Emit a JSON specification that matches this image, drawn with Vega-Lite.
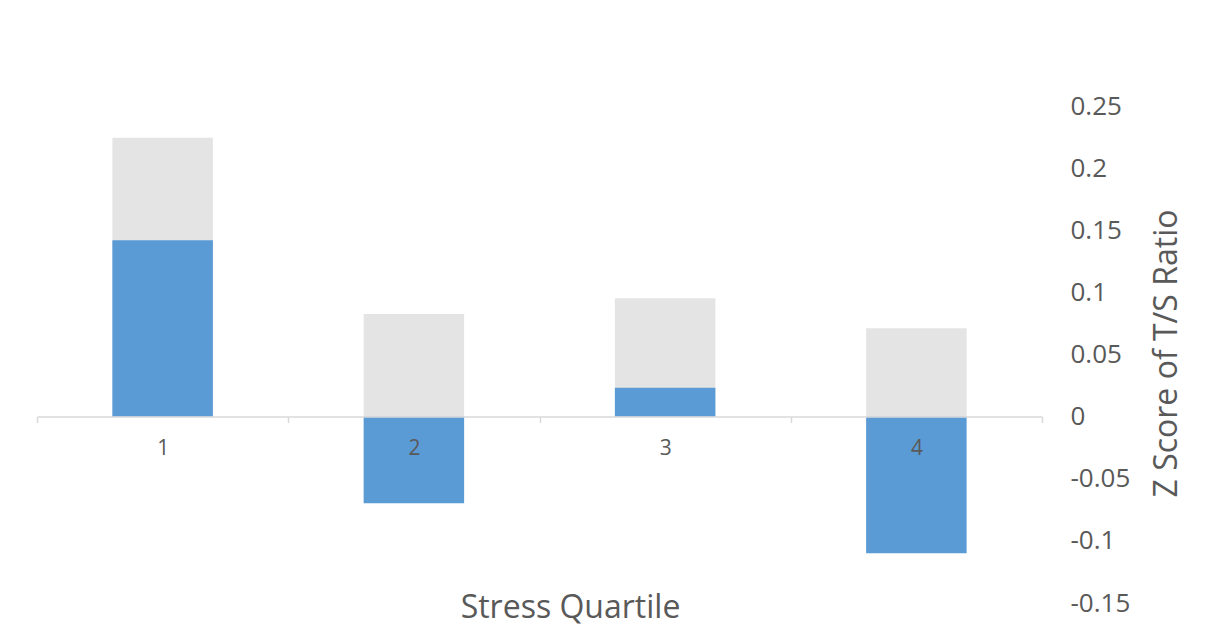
{
  "$schema": "https://vega.github.io/schema/vega-lite/v6.json",
  "width": 1005,
  "height": 497,
  "autosize": {"type": "none"},
  "padding": {"left": 37, "top": 106, "right": 172, "bottom": 26},
  "background": "white",
  "config": {
    "font": "Open Sans",
    "view": {"stroke": null}
  },
  "data": {
    "values": [
      {"quartile": "1", "series": "Series 1", "value": 0.2244},
      {"quartile": "2", "series": "Series 1", "value": 0.0826},
      {"quartile": "3", "series": "Series 1", "value": 0.0952},
      {"quartile": "4", "series": "Series 1", "value": 0.0711},
      {"quartile": "1", "series": "Series 2", "value": 0.1419},
      {"quartile": "2", "series": "Series 2", "value": -0.0697},
      {"quartile": "3", "series": "Series 2", "value": 0.0233},
      {"quartile": "4", "series": "Series 2", "value": -0.1099}
    ]
  },
  "mark": {"type": "bar", "width": {"band": 0.4}},
  "encoding": {
    "x": {
      "field": "quartile",
      "type": "ordinal",
      "scale": {"domain": ["1", "2", "3", "4"], "paddingInner": 0, "paddingOuter": 0},
      "axis": {
        "title": "Stress Quartile",
        "orient": "bottom",
        "offset": -186.5,
        "zindex": 1,
        "labelAngle": 0,
        "labelFontSize": 21,
        "labelColor": "#595959",
        "labelPadding": 15,
        "tickBand": "extent",
        "tickSize": 6,
        "tickColor": "#D9D9D9",
        "domainColor": "#D9D9D9",
        "domainWidth": 1.5,
        "tickWidth": 1.5,
        "titleFontSize": 32,
        "titleFontWeight": "normal",
        "titleColor": "#595959",
        "titleBaseline": "alphabetic",
        "titleAlign": "center",
        "titleX": 533,
        "titleY": 201
      }
    },
    "y": {
      "field": "value",
      "type": "quantitative",
      "stack": null,
      "scale": {"domain": [-0.15, 0.25], "nice": false, "zero": false},
      "axis": {
        "orient": "right",
        "title": "Z Score of T/S Ratio",
        "values": [-0.15, -0.1, -0.05, 0, 0.05, 0.1, 0.15, 0.2, 0.25],
        "labelExpr": "'' + datum.value",
        "grid": false,
        "domain": false,
        "ticks": false,
        "tickSize": 0,
        "labelPadding": 28,
        "labelAlign": "left",
        "labelBaseline": "middle",
        "labelFontSize": 26,
        "labelColor": "#595959",
        "titleFontSize": 32,
        "titleFontWeight": "normal",
        "titleColor": "#595959",
        "titleAngle": 270,
        "titleBaseline": "alphabetic",
        "titleAlign": "center",
        "titleX": 134,
        "titleY": 247
      }
    },
    "color": {
      "field": "series",
      "type": "nominal",
      "scale": {"domain": ["Series 1", "Series 2"], "range": ["#E4E4E4", "#5B9BD5"]},
      "legend": null
    },
    "order": {"field": "series"}
  }
}
